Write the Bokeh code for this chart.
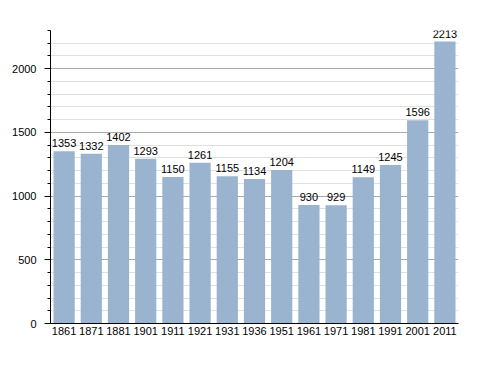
from bokeh.plotting import figure
from bokeh.models import ColumnDataSource, FactorRange, Range1d, SingleIntervalTicker, LabelSet
from bokeh.core.properties import value
from bokeh.embed import file_html
from bokeh.resources import INLINE

years = ["1861", "1871", "1881", "1901", "1911", "1921", "1931", "1936",
         "1951", "1961", "1971", "1981", "1991", "2001", "2011"]
population = [1353, 1332, 1402, 1293, 1150, 1261, 1155, 1134,
              1204, 930, 929, 1149, 1245, 1596, 2213]

src = ColumnDataSource(dict(x=years, y=population, lab=[str(v) for v in population]))

p = figure(width=480, height=358, x_range=FactorRange(*years, range_padding=0),
           y_range=Range1d(0, 2300), output_backend="svg", toolbar_location=None,
           min_border_left=50, min_border_right=22, min_border_top=30, min_border_bottom=35)
p.outline_line_color = None
p.vbar(x="x", top="y", width=0.78, source=src, fill_color="#9AB3CF", line_color=None)

labels = LabelSet(x="x", y="y", text="lab", source=src, text_align="center",
                  text_baseline="bottom", y_offset=4, text_font_size="11px",
                  text_font=value("Liberation Sans"), text_color="#000000")
p.add_layout(labels)

p.xgrid.grid_line_color = None
p.yaxis.ticker = SingleIntervalTicker(interval=500, num_minor_ticks=5)
p.ygrid.grid_line_color = "#aaaaaa"
p.ygrid.minor_grid_line_color = "#e0e0e0"
p.ygrid.level = "underlay"

for ax in (p.xaxis, p.yaxis):
    ax.axis_line_color = "#000000"
    ax.major_label_text_font = "Liberation Sans"
    ax.major_label_text_font_size = "11px"
    ax.major_label_text_color = "#000000"
p.xaxis.major_tick_line_color = None
p.xaxis.minor_tick_line_color = None
p.xaxis.major_tick_out = 0
p.xaxis.major_tick_in = 0
p.xaxis.major_label_standoff = 3
p.yaxis.major_tick_in = 0
p.yaxis.major_tick_out = 6
p.yaxis.minor_tick_in = 0
p.yaxis.minor_tick_out = 3
p.yaxis.major_tick_line_color = "#000000"
p.yaxis.minor_tick_line_color = "#000000"
p.yaxis.major_label_standoff = 8

open("out.html", "w").write(file_html(p, INLINE))
